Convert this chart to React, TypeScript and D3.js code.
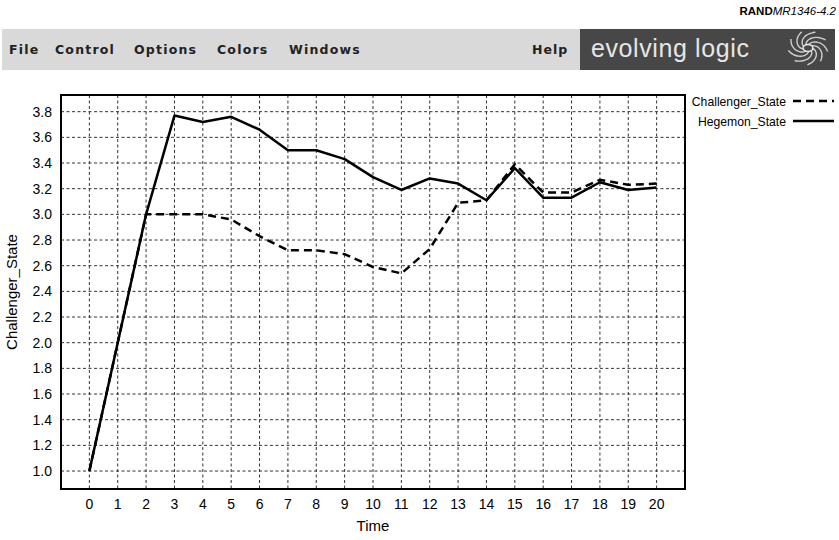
import React from "react";
import * as d3 from "d3";

const times = [0, 1, 2, 3, 4, 5, 6, 7, 8, 9, 10, 11, 12, 13, 14, 15, 16, 17, 18, 19, 20];
const hegemon = [1.0, 2.0, 3.0, 3.77, 3.72, 3.76, 3.66, 3.5, 3.5, 3.43, 3.29, 3.19, 3.28, 3.24, 3.11, 3.36, 3.13, 3.13, 3.25, 3.19, 3.21];
const challenger = [1.0, 2.0, 3.0, 3.0, 3.0, 2.96, 2.83, 2.72, 2.72, 2.69, 2.59, 2.54, 2.73, 3.09, 3.11, 3.39, 3.17, 3.17, 3.27, 3.23, 3.24];
const yTicks = [1.0, 1.2, 1.4, 1.6, 1.8, 2.0, 2.2, 2.4, 2.6, 2.8, 3.0, 3.2, 3.4, 3.6, 3.8];
const menuItems = ["File", "Control", "Options", "Colors", "Windows"];
const menuX = [9, 55, 134, 217, 289];
const seriesNames = ["Challenger_State", "Hegemon_State"];

const W = 839;
const H = 540;
const plot = { left: 61, right: 685, top: 95, bottom: 489 };

export default function App() {
  const x = d3.scaleLinear().domain([-1, 21]).range([plot.left, plot.right]);
  const y = d3.scaleLinear().domain([0.86, 3.93]).range([plot.bottom, plot.top]);
  const line = d3
    .line<number>()
    .x((_, i) => x(times[i]))
    .y((d) => y(d));

  const font = "'Liberation Sans', Arial, Helvetica, sans-serif";
  const menuFont = "'DejaVu Sans', sans-serif";

  // logo swirl arms
  const cx = 808;
  const cy = 48;
  const arms = d3.range(9).map((k) => {
    const a0 = (k / 9) * Math.PI * 2;
    const pts: [number, number][] = d3.range(0, 1.01, 0.1).map((t) => {
      const r = 4 + t * 16;
      const a = a0 + t * 1.6;
      return [cx + r * Math.cos(a), cy + r * Math.sin(a) * 0.85];
    });
    return d3.line().curve(d3.curveBasis)(pts) as string;
  });

  return (
    <div style={{ position: "fixed", left: 0, top: 0, width: W, height: H, background: "#fff" }}>
      <svg width={W} height={H} style={{ display: "block" }}>
        <rect x={0} y={0} width={W} height={H} fill="#fff" />
        {/* top label */}
        <text x={836} y={15} textAnchor="end" fontFamily={font} fontSize={11.5} fill="#000">
          <tspan fontWeight="bold">RAND</tspan>
          <tspan fontStyle="italic">MR1346-4.2</tspan>
        </text>

        {/* menu bar */}
        <rect x={2} y={29} width={580} height={41} fill="#d9d9d9" />
        <rect x={580} y={29} width={255} height={41} fill="#474747" />
        {menuItems.map((m, i) => (
          <text
            key={m}
            x={menuX[i]}
            y={54}
            fontFamily={menuFont}
            fontWeight="bold"
            fontSize={12.5}
            letterSpacing={1.2}
            fill="#222"
          >
            {m}
          </text>
        ))}
        <text x={532} y={54} fontFamily={menuFont} fontWeight="bold" fontSize={12.5} letterSpacing={1} fill="#222">
          Help
        </text>
        <text x={591} y={57} fontFamily={font} fontSize={25} letterSpacing={0.6} fill="#e6e6e6">
          evolving logic
        </text>
        <g fill="none" stroke="#cfcfcf" strokeWidth={1.4}>
          {arms.map((p, i) => (
            <path key={i} d={p} />
          ))}
          <ellipse cx={cx} cy={cy} rx={5} ry={3.5} stroke="#eee" />
        </g>

        {/* grid */}
        <g stroke="#333" strokeWidth={1} strokeDasharray="3,2.5">
          {times.map((t) => (
            <line key={"vx" + t} x1={x(t)} x2={x(t)} y1={plot.top} y2={plot.bottom} />
          ))}
          {yTicks.map((v) => (
            <line key={"hy" + v} x1={plot.left} x2={plot.right} y1={y(v)} y2={y(v)} />
          ))}
        </g>

        {/* series */}
        <path d={line(challenger) as string} fill="none" stroke="#000" strokeWidth={2.5} strokeDasharray="8,5" />
        <path d={line(hegemon) as string} fill="none" stroke="#000" strokeWidth={2.5} strokeLinejoin="round" />

        {/* frame */}
        <rect
          x={plot.left}
          y={plot.top}
          width={plot.right - plot.left}
          height={plot.bottom - plot.top}
          fill="none"
          stroke="#000"
          strokeWidth={2}
        />

        {/* y tick labels */}
        {yTicks.map((v) => (
          <text key={"yl" + v} x={52} y={y(v)} dy="0.35em" textAnchor="end" fontFamily={font} fontSize={14} fill="#000">
            {v.toFixed(1)}
          </text>
        ))}
        {/* x tick labels */}
        {times.map((t) => (
          <text key={"xl" + t} x={x(t)} y={509} textAnchor="middle" fontFamily={font} fontSize={14} fill="#000">
            {t}
          </text>
        ))}
        <text x={(plot.left + plot.right) / 2} y={531} textAnchor="middle" fontFamily={font} fontSize={15} fill="#000">
          Time
        </text>
        <text
          transform={`translate(17,${(plot.top + plot.bottom) / 2}) rotate(-90)`}
          textAnchor="middle"
          fontFamily={font}
          fontSize={15}
          fill="#000"
        >
          {seriesNames[0]}
        </text>

        {/* legend */}
        <text x={786} y={106} textAnchor="end" fontFamily={font} fontSize={12.2} fill="#000">
          {seriesNames[0]}
        </text>
        <line x1={793} x2={834} y1={101} y2={101} stroke="#000" strokeWidth={2.5} strokeDasharray="8,5" />
        <text x={786} y={126} textAnchor="end" fontFamily={font} fontSize={12.2} fill="#000">
          {seriesNames[1]}
        </text>
        <line x1={793} x2={834} y1={121} y2={121} stroke="#000" strokeWidth={2.5} />
      </svg>
    </div>
  );
}
